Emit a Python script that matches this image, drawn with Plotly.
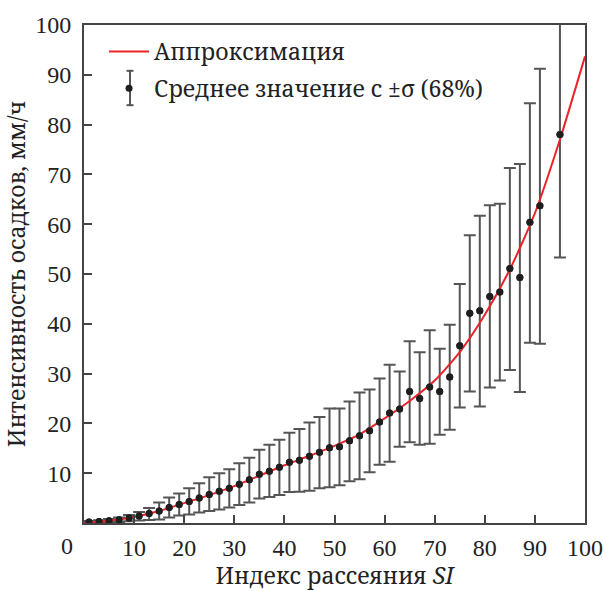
import plotly.graph_objects as go

# ---- data ----
si = [1, 3, 5, 7, 9, 11, 13, 15, 17, 19, 21, 23, 25, 27, 29, 31, 33, 35, 37, 39,
      41, 43, 45, 47, 49, 51, 53, 55, 57, 59, 61, 63, 65, 67, 69, 71, 73, 75, 77,
      79, 81, 83, 85, 87, 89, 91, 95]
mean_rate = [0.2, 0.3, 0.45, 0.65, 1.0, 1.4, 1.9, 2.4, 3.1, 3.7, 4.3, 5.0, 5.7, 6.4,
             7.0, 7.8, 8.7, 9.8, 10.4, 11.2, 12.2, 12.6, 13.4, 14.2, 15.1, 15.3, 16.5,
             17.5, 18.5, 20.3, 22.1, 22.9, 26.4, 25.0, 27.3, 26.4, 29.3, 35.6, 42.1,
             42.6, 45.5, 46.4, 51.1, 49.3, 60.4, 63.7, 78.0]
upper_rate = [0.4, 0.55, 0.8, 1.1, 1.6, 2.2, 3.0, 4.1, 5.1, 5.9, 7.0, 8.0, 9.2, 10.0,
              10.8, 12.0, 13.1, 14.7, 15.7, 16.7, 18.1, 18.9, 20.2, 21.3, 23.0, 23.0,
              24.4, 26.2, 26.8, 29.0, 31.8, 30.4, 36.5, 34.3, 38.7, 35.0, 39.8, 48.0,
              57.8, 61.7, 63.8, 64.1, 71.3, 72.1, 84.3, 91.2, 102.7]
lower_rate = [0.05, 0.1, 0.15, 0.2, 0.35, 0.5, 0.6, 0.7, 1.1, 1.5, 1.7, 2.1, 2.4, 2.7,
              3.1, 3.6, 4.1, 4.9, 5.2, 5.6, 6.2, 6.3, 6.5, 7.0, 7.2, 7.6, 8.4, 8.8,
              10.2, 11.7, 12.3, 15.3, 16.2, 15.7, 15.9, 17.7, 18.7, 23.2, 26.4, 23.4,
              27.2, 28.6, 30.7, 26.3, 36.2, 36.0, 53.3]

fit_si = [0, 5, 10, 15, 20, 25, 30, 35, 40, 45, 50, 55, 60, 65, 70, 75, 80, 85, 90, 95, 100]
fit_rate = [0.0, 0.45, 1.2, 2.4, 4.0, 5.6, 7.4, 9.5, 11.6, 13.5, 15.5, 17.8, 21.0, 24.5,
            28.6, 34.3, 41.8, 50.9, 62.2, 77.0, 93.7]

x_ticks = [10, 20, 30, 40, 50, 60, 70, 80, 90, 100]
y_ticks = [10, 20, 30, 40, 50, 60, 70, 80, 90, 100]

legend_line = "Аппроксимация"
legend_pts = "Среднее значение с ±σ (68%)"
x_title = "Индекс рассеяния <i>SI</i>"
y_title = "Интенсивность осадков, мм/ч"

NUMF = "Liberation Serif"
TXTF = "Noto Serif"
AXC = "#444444"
TXT = "#222222"

err_plus = [u - m for u, m in zip(upper_rate, mean_rate)]
err_minus = [m - l for m, l in zip(mean_rate, lower_rate)]

fig = go.Figure()

fig.add_trace(go.Scatter(
    x=si, y=mean_rate, mode="markers", name=legend_pts, legendrank=2,
    legendgroup="b",
    marker=dict(color="#1e1e1e", size=7),
    error_y=dict(type="data", symmetric=False, array=err_plus, arrayminus=err_minus,
                 color="#555555", thickness=2, width=6),
))
fig.add_trace(go.Scatter(
    x=fit_si, y=fit_rate, mode="lines", name=legend_line, legendrank=1,
    legendgroup="a",
    line=dict(color="#e8232a", width=2, shape="spline", smoothing=0.6),
))
fig.add_trace(go.Scatter(
    x=si, y=mean_rate, mode="markers", showlegend=False,
    marker=dict(color="#1e1e1e", size=7),
))

# error-bar glyph for the legend entry (legend area, paper coords)
gx, gy0, gy1, cap = 0.0918, 0.839, 0.908, 0.007
shapes = [
    dict(type="line", xref="paper", yref="paper", x0=gx, x1=gx, y0=gy0, y1=gy1,
         line=dict(color="#555555", width=2)),
    dict(type="line", xref="paper", yref="paper", x0=gx - cap, x1=gx + cap, y0=gy0, y1=gy0,
         line=dict(color="#555555", width=2)),
    dict(type="line", xref="paper", yref="paper", x0=gx - cap, x1=gx + cap, y0=gy1, y1=gy1,
         line=dict(color="#555555", width=2)),
]

fig.update_layout(
    template="none",
    width=603, height=591,
    margin=dict(l=84, r=18, t=25, b=68),
    paper_bgcolor="white", plot_bgcolor="white",
    font=dict(family=TXTF, size=23, color=TXT),
    showlegend=True,
    legend=dict(x=0.04, y=0.99, xanchor="left", yanchor="top",
                bgcolor="rgba(0,0,0,0)", borderwidth=0,
                font=dict(family=TXTF, size=23, color=TXT),
                traceorder="grouped", tracegroupgap=4, itemwidth=40),
    shapes=shapes,
    xaxis=dict(range=[0, 100], tickmode="array", tickvals=x_ticks,
               ticktext=[str(v) for v in x_ticks], automargin=False,
               ticks="inside", ticklen=8, tickwidth=1.5, tickcolor=AXC,
               showline=True, linecolor=AXC, linewidth=2, mirror=True,
               showgrid=False, zeroline=False, ticklabelstandoff=2,
               ticklabeloverflow="allow",
               tickfont=dict(family=NUMF, size=24, color=TXT),
               title=dict(text=x_title, font=dict(family=TXTF, size=23, color=TXT),
                          standoff=6)),
    yaxis=dict(range=[0, 100], tickmode="array", tickvals=y_ticks,
               ticktext=[str(v) for v in y_ticks], automargin=False,
               ticks="inside", ticklen=8, tickwidth=1.5, tickcolor=AXC,
               showline=True, linecolor=AXC, linewidth=2, mirror=True,
               showgrid=False, zeroline=False, ticklabelstandoff=6,
               ticklabeloverflow="allow",
               tickfont=dict(family=NUMF, size=24, color=TXT),
               title=dict(text=y_title, font=dict(family=TXTF, size=23, color=TXT),
                          standoff=8)),
    annotations=[dict(text="0", xref="paper", yref="paper", x=0, y=0,
                      xanchor="center", yanchor="middle", xshift=-17.5, yshift=-22.5,
                      showarrow=False, font=dict(family=NUMF, size=24, color=TXT))],
)

fig.write_html("out.html")
